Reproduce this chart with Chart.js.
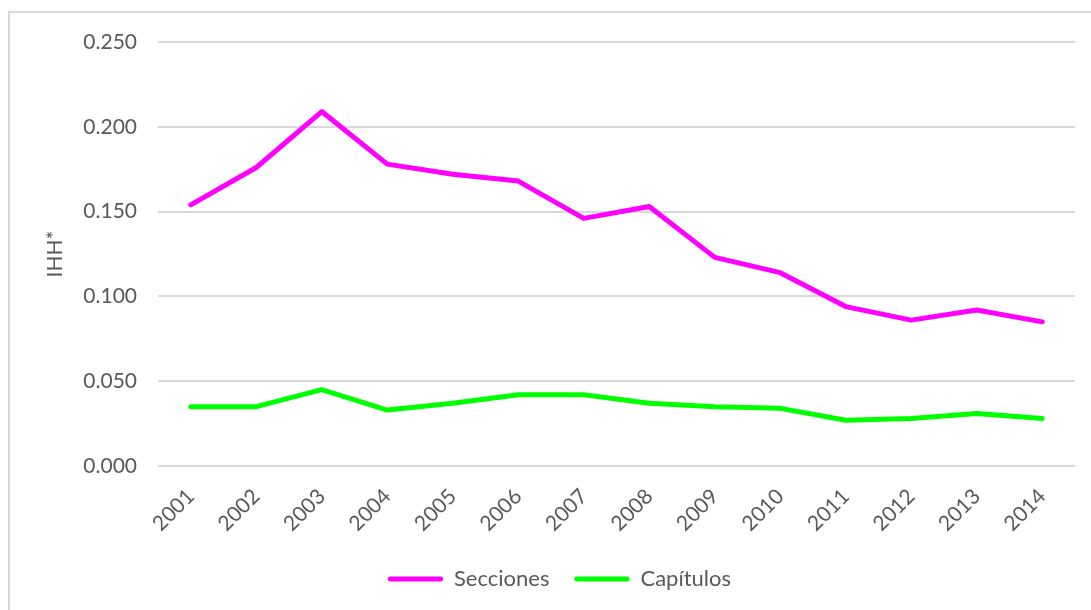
<!DOCTYPE html>
<html>
<head>
<meta charset="utf-8">
<script src="https://cdn.jsdelivr.net/npm/chart.js@4"></script>
<style>
    html, body { margin: 0; padding: 0; background: #fff; }
    #frame {
        position: absolute; left: 8px; top: 11px;
        width: 1110px; height: 620px;
        border: 2px solid #d9d9d9;
    }
    #wrap { position: absolute; left: 0; top: 0; width: 1091px; height: 610px; }
</style>
</head>
<body>
<div id="frame"></div>
<div id="wrap"><canvas id="ihhChart" width="1091" height="610"></canvas></div>
<script>
const years = ['2001', '2002', '2003', '2004', '2005', '2006', '2007',
               '2008', '2009', '2010', '2011', '2012', '2013', '2014'];
const secciones = [0.154, 0.176, 0.209, 0.178, 0.172, 0.168, 0.146,
                   0.153, 0.123, 0.114, 0.094, 0.086, 0.092, 0.085];
const capitulos = [0.035, 0.035, 0.045, 0.033, 0.037, 0.042, 0.042,
                   0.037, 0.035, 0.034, 0.027, 0.028, 0.031, 0.028];
const yTicks = [0, 0.05, 0.1, 0.15, 0.2, 0.25];

const textColor = '#595959';
const fontFamily = 'Lato, "Open Sans", sans-serif';

// legend sits a bit right of the canvas centre in the original
const legendShift = {
    id: 'legendShift',
    afterLayout(chart) {
        chart.legend.left += 22;
        chart.legend.right += 22;
    }
};

const ctx = document.getElementById('ihhChart').getContext('2d');

new Chart(ctx, {
    type: 'line',
    data: {
        labels: years,
        datasets: [{
            label: 'Secciones',
            data: secciones,
            borderColor: '#ff00ff',
            backgroundColor: '#ff00ff',
            borderWidth: 5,
            pointRadius: 0,
            borderCapStyle: 'round',
            borderJoinStyle: 'round',
            tension: 0
        }, {
            label: 'Capítulos',
            data: capitulos,
            borderColor: '#00ff00',
            backgroundColor: '#00ff00',
            borderWidth: 5,
            pointRadius: 0,
            borderCapStyle: 'round',
            borderJoinStyle: 'round',
            tension: 0
        }]
    },
    plugins: [legendShift],
    options: {
        responsive: false,
        animation: false,
        layout: {
            padding: { top: 42, right: 16, bottom: 10, left: 0 }
        },
        plugins: {
            tooltip: { enabled: false },
            legend: {
                position: 'bottom',
                labels: {
                    color: textColor,
                    font: { family: fontFamily, size: 22 },
                    boxWidth: 55,
                    boxHeight: 5,
                    padding: 25,
                    useBorderRadius: true,
                    borderRadius: 2,
                    generateLabels: (chart) => {
                        const items = Chart.defaults.plugins.legend.labels.generateLabels(chart);
                        items.forEach(item => {
                            item.fillStyle = item.strokeStyle;
                            item.lineWidth = 0;
                        });
                        return items;
                    }
                }
            }
        },
        scales: {
            x: {
                offset: true,
                grid: { display: false, drawTicks: false },
                border: { display: false },
                ticks: {
                    color: textColor,
                    font: { family: fontFamily, size: 21 },
                    minRotation: 45,
                    maxRotation: 45,
                    padding: 18
                },
                afterFit: (scale) => { scale.height = 77; }
            },
            y: {
                min: 0,
                max: 0.25,
                grid: { color: '#d9d9d9', lineWidth: 2, drawTicks: false },
                border: { display: false },
                afterBuildTicks: (scale) => {
                    scale.ticks = yTicks.map(v => ({ value: v }));
                },
                ticks: {
                    color: textColor,
                    font: { family: fontFamily, size: 21 },
                    padding: 21,
                    callback: (v) => Number(v).toFixed(3)
                },
                title: {
                    display: true,
                    text: 'IHH*',
                    color: textColor,
                    font: { family: fontFamily, size: 21 },
                    padding: { top: 43, bottom: 0 }
                },
                afterFit: (scale) => { scale.width = 158; }
            }
        }
    }
});
</script>
</body>
</html>
